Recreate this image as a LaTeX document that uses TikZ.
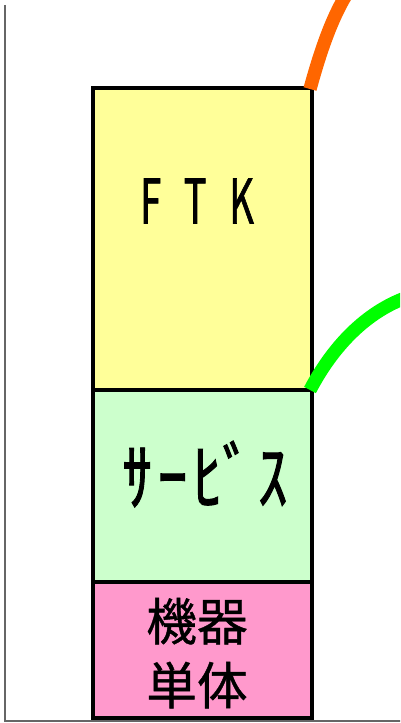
\documentclass[tikz,border=0pt]{standalone}
\usepackage{fontspec}
\newfontfamily\jp[FakeBold=0.8]{Noto Sans CJK JP}
\newfontfamily\jpnarrow[FakeStretch=0.62,FakeBold=1]{Noto Sans CJK JP}
\newfontfamily\jpkana[FakeStretch=0.8,FakeBold=1.2]{Noto Sans CJK JP}
\definecolor{ftkyellow}{HTML}{FFFF99}
\definecolor{svcgreen}{HTML}{CCFFCC}
\definecolor{unitpink}{HTML}{FF99CC}
\definecolor{curveorange}{HTML}{FF6600}
\definecolor{curvegreen}{HTML}{00FF00}
\definecolor{axisgray}{HTML}{666666}
\tikzset{
  layerbox/.style={draw=black, line width=3pt, inner sep=0pt, outer sep=0pt},
  axisline/.style={draw=axisgray, line width=1.1pt},
  curve/.style={line width=10pt},
}
\begin{document}
\begin{tikzpicture}[x=0.75pt,y=-0.75pt]
\useasboundingbox (0,0) rectangle (400,723);
\clip (0,0) rectangle (400,723);
% axes
\coordinate (axtop) at (5,5);
\coordinate (axcorner) at (5,721);
\coordinate (axright) at (402,721);
\draw[axisline] (axtop) -- (axcorner) -- (axright);
% layers
\filldraw[layerbox, fill=ftkyellow] (93,88) rectangle (312,390);
\filldraw[layerbox, fill=svcgreen] (93,390) rectangle (312,582);
\filldraw[layerbox, fill=unitpink] (93,582) rectangle (312,718);
\coordinate (ftkcorner) at (310,89);
\coordinate (svccorner) at (310,390);
\coordinate (orangeend) at (348,-8);
\coordinate (greenend) at (408,297);
% curves
\draw[curve, curveorange] (ftkcorner) .. controls (318,60) and (330,20) .. (orangeend);
\draw[curve, curvegreen] (svccorner) .. controls (332,348) and (365,312) .. (greenend);
% texts
\node (ftk) at (197,201) {\jpnarrow\fontsize{46pt}{50pt}\selectfont F\hspace{17pt}T\hspace{17pt}K};
\node (svc) at (205,474) {\jpkana\fontsize{56pt}{60pt}\selectfont ｻ\hspace{4pt}ｰ\hspace{4pt}ﾋﾞ\hspace{4pt}ｽ};
\node (unit) at (197,659) {\jp\fontsize{38pt}{50pt}\selectfont\begin{tabular}{@{}c@{}}機器\\[-2pt]単体\end{tabular}};
\end{tikzpicture}
\end{document}
